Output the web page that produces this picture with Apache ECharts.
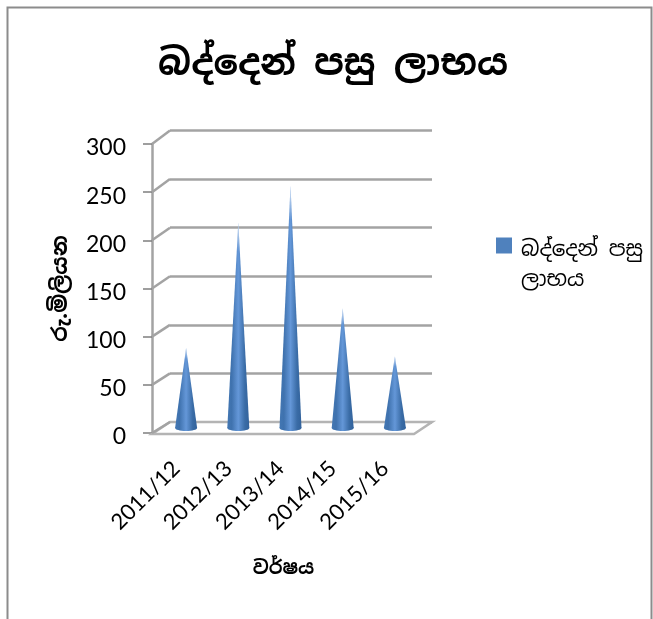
<!DOCTYPE html>
<html>
<head>
<meta charset="utf-8">
<style>
  html, body { margin: 0; padding: 0; background: #fff; }
  #chart { width: 653px; height: 619px; }
</style>
<script src="https://cdn.jsdelivr.net/npm/echarts@6/dist/echarts.min.js"></script>
</head>
<body>
<div id="chart"></div>
<script>
const years = ["2011/12", "2012/13", "2013/14", "2014/15", "2015/16"];
const profit = [83, 213, 251, 124, 74];
const yTicks = [0, 50, 100, 150, 200, 250, 300];

const titleText = "බද්දෙන් පසු ලාභය";
const seriesName = "බද්දෙන් පසු ලාභය";
const legendLines = ["බද්දෙන් පසු", "ලාභය"];
const yName = "රු.මිලියන";
const xName = "වර්ෂය";

const sinhalaFont = '"Noto Sans Sinhala", "Iskoola Pota", "Noto Sans", "DejaVu Sans", sans-serif';
const gridColor = "#a3a3a3";

const chart = echarts.init(document.getElementById("chart"), null, { renderer: "canvas" });

// grid 0 = front edge with the labels, grid 1 = back wall, grid 2 = plane the cones stand on
function walls(params, api) {
  const v = api.value(0);
  const front = api.coord([0, v]);
  const back = chart.convertToPixel({ gridIndex: 1 }, [0, v]);
  const line = { stroke: gridColor, lineWidth: 2.5 };
  const children = [];
  if (v === 0) {
    const fr = api.coord([1, 0]);
    const br = chart.convertToPixel({ gridIndex: 1 }, [1, 0]);
    children.push({
      type: "polygon",
      shape: { points: [[front[0], front[1] + 1], [fr[0], fr[1] + 1], br, back] },
      style: { fill: "#fff", stroke: "#b4b4b4", lineWidth: 2.5 },
    });
  }
  children.push({
    type: "line",
    shape: { x1: front[0], y1: front[1], x2: back[0], y2: back[1] },
    style: line,
  });
  return { type: "group", children };
}

function cone(params, api) {
  const top = api.coord([api.value(0), api.value(1)]);
  const base = api.coord([api.value(0), 0]);
  const half = 11;
  const ry = 3;
  const pts = [[top[0], top[1]], [base[0] + half, base[1]], [base[0] - half, base[1]]];
  const shade = new echarts.graphic.LinearGradient(0, 0, 1, 0, [
    { offset: 0, color: "#4377b3" },
    { offset: 0.2, color: "#3f72ae" },
    { offset: 0.5, color: "#6497d8" },
    { offset: 0.8, color: "#3a6ca6" },
    { offset: 1, color: "#32629b" },
  ]);
  return {
    type: "group",
    children: [
      { type: "polygon", shape: { points: pts }, style: { fill: shade } },
      {
        type: "ellipse",
        shape: { cx: base[0], cy: base[1], rx: half, ry: ry },
        style: { fill: shade },
      },
      {
        type: "polygon",
        shape: { points: pts },
        style: {
          fill: new echarts.graphic.LinearGradient(0, 0, 0, 1, [
            { offset: 0, color: "rgba(255,255,255,0.75)" },
            { offset: 0.14, color: "rgba(255,255,255,0)" },
          ]),
        },
      },
    ],
  };
}

const hiddenAxis = { show: false };
const legendText = { fontFamily: sinhalaFont, fontSize: 21.3, lineHeight: 30, color: "#000" };

chart.setOption({
  animation: false,
  backgroundColor: "#fff",
  title: {
    text: titleText,
    left: 328,
    top: 42,
    textAlign: "center",
    textStyle: { fontFamily: sinhalaFont, fontSize: 36.4, fontWeight: "bold", color: "#000" },
  },
  legend: {
    data: [seriesName],
    left: 496,
    top: 205,
    padding: 0,
    itemWidth: 16,
    itemHeight: 16,
    itemGap: 0,
    icon: "rect",
    itemStyle: { color: "#4f81bd" },
    // blank spacer line so the first text line sits beside the swatch
    formatter: () => "{s| }\n" + legendLines.map((l) => "{t|" + l + "}").join("\n"),
    textStyle: {
      padding: [0, 0, 0, 4],
      rich: { s: { ...legendText, lineHeight: 40 }, t: legendText },
    },
  },
  graphic: [
    {
      type: "rect",
      silent: true,
      z: -1,
      shape: { x: 7.5, y: 7.5, width: 644, height: 660 },
      style: { fill: "#fff", stroke: "#8c8c8c", lineWidth: 2 },
    },
  ],
  grid: [
    { left: 152, top: 144, width: 262, height: 289 },
    { left: 170, top: 130.5, width: 262, height: 291.5 },
    { left: 160, top: 138.5, width: 261, height: 289.5 },
  ],
  xAxis: [
    { gridIndex: 0, type: "value", min: 0, max: 1, ...hiddenAxis },
    { gridIndex: 1, type: "value", min: 0, max: 1, ...hiddenAxis },
    {
      gridIndex: 2,
      type: "category",
      data: years,
      axisLine: { show: false },
      axisTick: { show: false },
      axisLabel: { rotate: 45, margin: 27, padding: [0, 14, 0, 0], fontFamily: "Lato", fontSize: 22, color: "#000", interval: 0 },
      name: xName,
      nameLocation: "middle",
      nameGap: 131,
      nameTextStyle: { fontFamily: sinhalaFont, fontSize: 19, fontWeight: "bold", color: "#000", padding: [0, 14, 0, 0] },
    },
  ],
  yAxis: [
    {
      gridIndex: 0,
      type: "value",
      min: 0,
      max: 300,
      interval: 50,
      axisLine: { show: true, lineStyle: { color: gridColor, width: 2.5 } },
      axisTick: { show: true, length: 9, lineStyle: { color: "#7f7f7f", width: 1.5 } },
      axisLabel: { margin: 26, verticalAlign: "top", lineHeight: 23, padding: [-7.5, 0, 0, 0], fontFamily: "Lato", fontSize: 23, color: "#000" },
      splitLine: { show: false },
      name: yName,
      nameLocation: "middle",
      nameGap: 80,
      nameTextStyle: { fontFamily: sinhalaFont, fontSize: 21.5, fontWeight: "bold", color: "#000" },
    },
    {
      gridIndex: 1,
      type: "value",
      min: 0,
      max: 300,
      interval: 50,
      axisLine: { show: false },
      axisTick: { show: false },
      axisLabel: { show: false },
      splitLine: { show: true, lineStyle: { color: gridColor, width: 2.5 } },
    },
    { gridIndex: 2, type: "value", min: 0, max: 300, interval: 50, ...hiddenAxis },
  ],
  series: [
    {
      name: "walls",
      type: "custom",
      xAxisIndex: 0,
      yAxisIndex: 0,
      clip: false,
      z: 1,
      renderItem: walls,
      data: yTicks,
    },
    {
      name: seriesName,
      type: "custom",
      xAxisIndex: 2,
      yAxisIndex: 2,
      clip: false,
      z: 3,
      itemStyle: { color: "#4f81bd" },
      renderItem: cone,
      encode: { x: 0, y: 1 },
      data: profit.map((v, i) => [i, v]),
    },
  ],
});
</script>
</body>
</html>
